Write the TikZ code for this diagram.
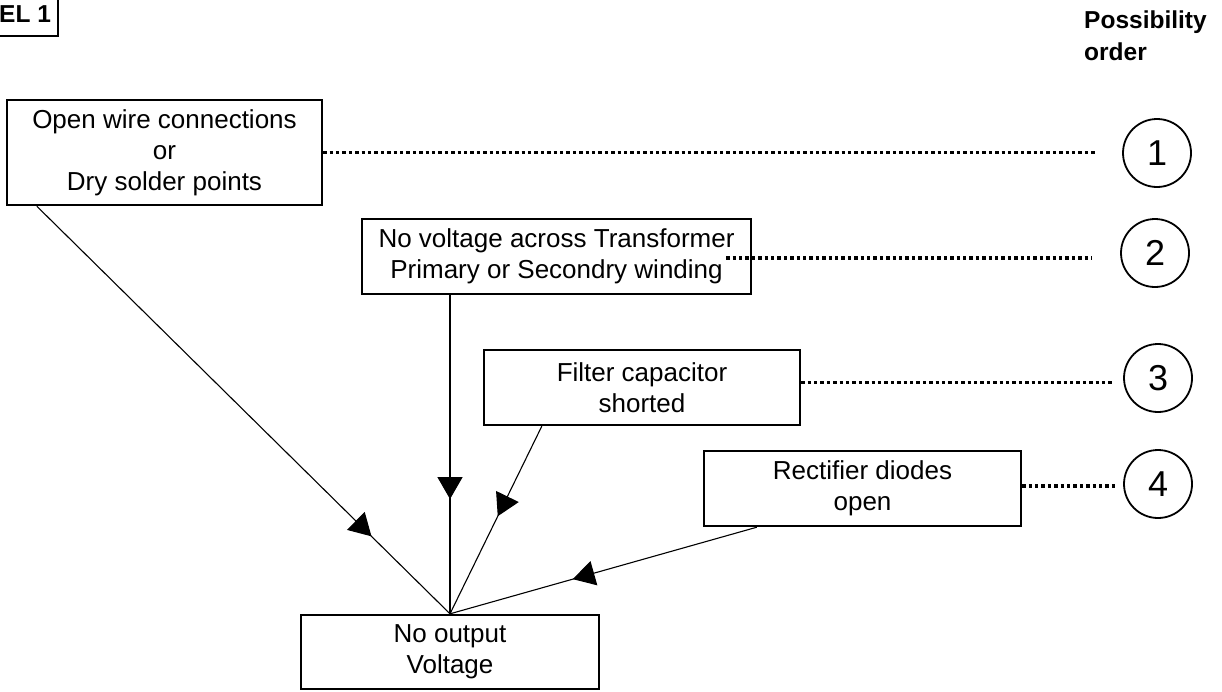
\documentclass[tikz,border=0pt]{standalone}
\usepackage{fontspec}
\setmainfont{Liberation Sans}
\usetikzlibrary{arrows.meta,decorations.markings,calc}
\begin{document}
\begin{tikzpicture}[x=1pt,y=-1pt,
  box/.style={draw,line width=2.4pt,inner sep=0pt,align=center,font=\fontsize{26}{31}\selectfont},
  num/.style={draw,circle,line width=1.8pt,minimum size=68pt,inner sep=0pt,font=\fontsize{36}{36}\selectfont},
  dotline/.style={line width=3.5pt,dash pattern=on 3.4pt off 3pt},
  conn/.style={line width=1.1pt,postaction={decorate},decoration={markings,mark=at position #1 with {\arrow{Triangle[length=22pt,width=25pt]}}}},
  title/.style={font=\bfseries\fontsize{24.5}{30}\selectfont,inner sep=0pt}]
\useasboundingbox (0,0) rectangle (1222,691);
\clip (0,0) rectangle (1222,691);

% label box at top left
\draw[line width=2.4pt] (-40,-10) rectangle (58,36);
\node[title,anchor=base west] (lbl) at (-1,22) {EL 1};

% heading
\node[title,anchor=base west] (po1) at (1084,28) {Possibility};
\node[title,anchor=base west] (po2) at (1084,60) {order};

% boxes
\node[box,minimum width=315pt,minimum height=105pt] (b1) at (164.5,152.5) {Open wire connections\\or\\Dry solder points};
\node[box,minimum width=389pt,minimum height=75pt] (b2) at (556.5,256.5) {No voltage across Transformer\\Primary or Secondry winding};
\node[box,minimum width=316pt,minimum height=75pt] (b3) at (642,387.5) {Filter capacitor\\shorted};
\node[box,minimum width=317pt,minimum height=75pt] (b4) at (862.5,488.5) {Rectifier diodes\\open};
\node[box,minimum width=298pt,minimum height=74pt] (b5) at (450,652) {No output\\Voltage};

% order circles
\node[num] (c1) at (1157,153) {1};
\node[num] (c2) at (1155,253) {2};
\node[num] (c3) at (1158,378) {3};
\node[num] (c4) at (1158,484) {4};

% dotted lines
\draw[dotline] (b1.east) -- ($(c1.west |- b1.east)+(-26,0)$);
\draw[dotline] ($(b2.east)+(-26,1.5)$) -- ($(c2.west |- b2.east)+(-28,1.5)$);
\draw[dotline] ($(b3.east)+(0,-5)$) -- ($(c3.west |- b3.east)+(-10,-5)$);
\draw[dotline] ($(b4.east)+(0,-2.5)$) -- ($(c4.west |- b4.east)+(-5,-2.5)$);

% connectors
\draw[conn=0.81] ([xshift=31pt]b1.south west) -- (b5.north);
\draw[conn=0.64] (b2.south -| b5.north) -- (b5.north);
\draw[conn=0.48] ([xshift=59pt]b3.south west) -- (b5.north);
\draw[conn=0.60] ([xshift=54pt]b4.south west) -- (b5.north);
\end{tikzpicture}
\end{document}
